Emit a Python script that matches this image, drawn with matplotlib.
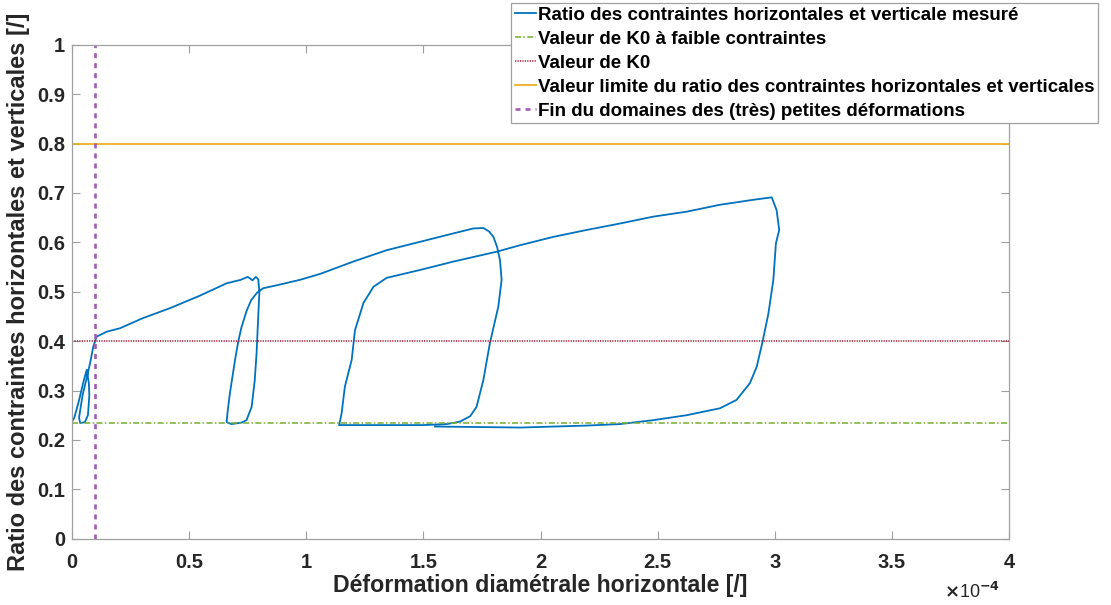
import numpy as np
import matplotlib
matplotlib.use("Agg")
import matplotlib.pyplot as plt

# --- data (x in units of 1e-4) ---
strain_e4 = [0.00, 0.01, 0.03, 0.05, 0.063, 0.072, 0.074, 0.068, 0.055, 0.035, 0.030, 0.045, 0.065,
             0.077, 0.091, 0.105, 0.148, 0.205, 0.30, 0.42, 0.546, 0.66, 0.72, 0.75, 0.76, 0.77, 0.785,
             0.795, 0.80, 0.795, 0.788, 0.78, 0.767, 0.745, 0.724, 0.68, 0.66, 0.665, 0.674, 0.696, 0.71,
             0.724, 0.746, 0.765, 0.79, 0.816, 0.874, 0.973, 1.059, 1.201, 1.343, 1.486, 1.628, 1.713,
             1.756, 1.78, 1.799, 1.815, 1.827, 1.834, 1.82, 1.784, 1.756, 1.727, 1.70, 1.656, 1.6, 1.5,
             1.35, 1.20, 1.14, 1.145, 1.151, 1.165, 1.194, 1.208, 1.244, 1.287, 1.343, 1.486, 1.628,
             1.813, 1.912, 2.055, 2.197, 2.339, 2.482, 2.624, 2.766, 2.908, 2.987, 3.008, 3.019, 3.005,
             2.994, 2.973, 2.948, 2.923, 2.894, 2.837, 2.766, 2.624, 2.482, 2.339, 2.197, 2.055, 1.912,
             1.75, 1.55]
ratio = [0.237, 0.245, 0.28, 0.32, 0.342, 0.315, 0.29, 0.25, 0.236, 0.234, 0.245, 0.29, 0.33,
         0.355, 0.389, 0.409, 0.419, 0.426, 0.446, 0.467, 0.492, 0.517, 0.524, 0.530, 0.527, 0.523, 0.530,
         0.525, 0.50, 0.45, 0.376, 0.32, 0.267, 0.24, 0.235, 0.232, 0.236, 0.26, 0.294, 0.362, 0.40,
         0.429, 0.462, 0.483, 0.498, 0.507, 0.513, 0.524, 0.536, 0.561, 0.584, 0.601, 0.618, 0.628,
         0.629, 0.622, 0.611, 0.59, 0.564, 0.524, 0.470, 0.396, 0.321, 0.267, 0.248, 0.237, 0.232, 0.230,
         0.230, 0.230, 0.230, 0.24, 0.254, 0.308, 0.362, 0.422, 0.477, 0.510, 0.528, 0.544, 0.561,
         0.581, 0.594, 0.611, 0.625, 0.638, 0.652, 0.662, 0.676, 0.686, 0.691, 0.665, 0.625, 0.598,
         0.524, 0.456, 0.399, 0.348, 0.315, 0.281, 0.264, 0.250, 0.240, 0.232, 0.229, 0.227, 0.225,
         0.226, 0.227]

k0_low = 0.235
k0 = 0.40
ratio_limit = 0.80
small_strain_end_e4 = 0.1

labels = ["Ratio des contraintes horizontales et verticale mesuré",
          "Valeur de K0 à faible contraintes",
          "Valeur de K0",
          "Valeur limite du ratio des contraintes horizontales et verticales",
          "Fin du domaines des (très) petites déformations"]

xticks = [0, 0.5, 1, 1.5, 2, 2.5, 3, 3.5, 4]
xticklabels = ["0", "0.5", "1", "1.5", "2", "2.5", "3", "3.5", "4"]
yticks = [0, 0.1, 0.2, 0.3, 0.4, 0.5, 0.6, 0.7, 0.8, 0.9, 1]
yticklabels = ["0", "0.1", "0.2", "0.3", "0.4", "0.5", "0.6", "0.7", "0.8", "0.9", "1"]

plt.rcParams['font.family'] = ['Liberation Sans', 'DejaVu Sans']
plt.rcParams['font.weight'] = 'bold'

txt = '#262626'
axc = '#a0a0a0'

fig = plt.figure(figsize=(11.11, 6.05), dpi=100)
ax = fig.add_axes([72/1111, 1 - 538.7/605, (1009-72)/1111, (538.7-44.7)/605])

l1, = ax.plot(strain_e4, ratio, color='#0072BD', lw=1.3)
l2 = ax.axhline(k0_low, color='#77AC30', lw=1.1, ls=(0, (4, 1.5, 1, 1.5)))
l3 = ax.axhline(k0, color='#A2142F', lw=1.1, ls=(0, (0.8, 0.8)))
l4 = ax.axhline(ratio_limit, color='#EDB120', lw=1.3)
l5 = ax.axvline(small_strain_end_e4, color='#A35AB8', lw=1.9, ls=(0, (1.9, 1.9)))

ax.set_xlim(0, 4)
ax.set_ylim(0, 1)
ax.set_xticks(xticks)
ax.set_xticklabels(xticklabels)
ax.set_yticks(yticks)
ax.set_yticklabels(yticklabels)
ax.tick_params(direction='in', length=6, width=0.8, color=axc, labelcolor=txt,
               labelsize=14.5, top=True, right=True)
ax.tick_params(axis='x', pad=10)
ax.tick_params(axis='y', pad=5)
for lab in ax.get_xticklabels() + ax.get_yticklabels():
    lab.set_fontweight('bold')
for s in ax.spines.values():
    s.set_color(axc)
    s.set_linewidth(0.9)

ax.set_xlabel("Déformation diamétrale horizontale [/]", fontsize=16.7, fontweight='bold', color=txt, labelpad=2)
ax.set_ylabel("Ratio des contraintes horizontales et verticales [/]", fontsize=17, fontweight='bold', color=txt, labelpad=5)

fig.text(1000/1111, 1 - 592/605, r"$\times$10$^{-4}$", ha='right', va='center',
         fontsize=13, fontweight='normal', color=txt)

leg = fig.legend([l1, l2, l3, l4, l5], labels, loc='upper left',
                 bbox_to_anchor=(511/1111, 1 - 3/605), fontsize=13.5,
                 handlelength=1.15, handletextpad=0.12, borderpad=0.19, labelspacing=0.365,
                 borderaxespad=0, frameon=True, fancybox=False, framealpha=1)
leg.get_frame().set_edgecolor(axc)
leg.get_frame().set_linewidth(0.9)
for t in leg.get_texts():
    t.set_fontweight('bold')
    t.set_color('#000000')

fig.savefig('out.png', dpi=100)
